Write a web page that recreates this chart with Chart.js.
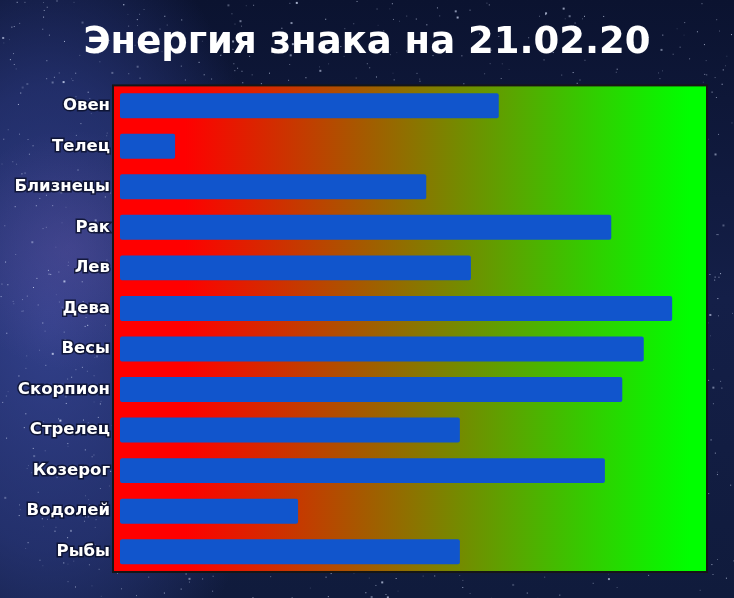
<!DOCTYPE html>
<html>
<head>
<meta charset="utf-8">
<script src="https://cdn.jsdelivr.net/npm/chart.js@4.4.1/dist/chart.umd.min.js"></script>
<style>
  html, body { margin: 0; padding: 0; background: #0e1733; }
  #wrap { width: 734px; height: 598px; }
</style>
</head>
<body>
<div id="wrap"><canvas id="chart" width="734" height="598"></canvas></div>
<script>
// Data
const signs = ["Овен", "Телец", "Близнецы", "Рак", "Лев", "Дева", "Весы", "Скорпион", "Стрелец", "Козерог", "Водолей", "Рыбы"];
const energy = [65.3, 9.5, 52.8, 84.7, 60.5, 95.2, 90.3, 86.6, 58.6, 83.6, 30.7, 58.6];
const titleText = "Энергия знака на 21.02.20";
const scaleTop = 100;

// starry background (decoration only)
const skyPlugin = {
    id: "sky",
    beforeDraw(chart) {
        const ctx = chart.ctx;
        const w = chart.width, h = chart.height;
        ctx.save();
        const g = ctx.createLinearGradient(0, 0, 0, h);
        g.addColorStop(0, "#0b1330");
        g.addColorStop(0.5, "#141f48");
        g.addColorStop(1, "#101b3c");
        ctx.fillStyle = g;
        ctx.fillRect(0, 0, w, h);

        // milky way haze down the left side
        ctx.save();
        ctx.translate(50, 320);
        ctx.scale(1, 1.8);
        const r = ctx.createRadialGradient(0, 0, 5, 0, 0, 230);
        r.addColorStop(0, "rgba(60,75,160,0.75)");
        r.addColorStop(0.55, "rgba(50,65,145,0.55)");
        r.addColorStop(1, "rgba(50,65,145,0)");
        ctx.fillStyle = r;
        ctx.fillRect(-300, -300, 600, 600);
        ctx.restore();

        const p = ctx.createRadialGradient(70, 250, 5, 70, 250, 120);
        p.addColorStop(0, "rgba(110,90,170,0.3)");
        p.addColorStop(1, "rgba(110,90,170,0)");
        ctx.fillStyle = p;
        ctx.fillRect(0, 0, w, h);

        // stars, fixed seed so the picture is stable
        let seed = 12345;
        const rnd = () => {
            seed = (seed * 1103515245 + 12345) % 2147483648;
            return seed / 2147483648;
        };
        for (let i = 0; i < 1400; i++) {
            const x = rnd() * w;
            const y = rnd() * h;
            const a = 0.15 + rnd() * 0.6;
            const s = rnd() < 0.92 ? 1 : 2;
            ctx.fillStyle = "rgba(220,230,255," + a.toFixed(2) + ")";
            ctx.fillRect(x, y, s, s);
        }
        ctx.restore();
    }
};

// red -> green panel behind the bars
const panelPlugin = {
    id: "panel",
    beforeDatasetsDraw(chart) {
        const { ctx, chartArea } = chart;
        const x = chart.scales.x;
        const left = chartArea.left - 7;
        const right = x.getPixelForValue(scaleTop) + 7;
        const top = chartArea.top;
        const bottom = chartArea.bottom;
        ctx.save();
        const g = ctx.createLinearGradient(185, 0, 690, 0);
        g.addColorStop(0, "#ff0000");
        g.addColorStop(1, "#00ff00");
        ctx.fillStyle = g;
        ctx.fillRect(left, top, right - left, bottom - top);
        ctx.strokeStyle = "#161616";
        ctx.lineWidth = 2;
        ctx.strokeRect(left, top, right - left, bottom - top);
        ctx.restore();
    }
};

const ctx = document.getElementById("chart").getContext("2d");
const chart = new Chart(ctx, {
    type: "bar",
    data: {
        labels: signs,
        datasets: [{
            data: energy,
            backgroundColor: "#1155cc",
            borderRadius: 2,
            borderSkipped: false,
            categoryPercentage: 0.8,
            barPercentage: 0.77
        }]
    },
    options: {
        indexAxis: "y",
        responsive: false,
        animation: false,
        layout: {
            padding: { top: 0, right: 0, bottom: 26, left: 0 }
        },
        scales: {
            x: {
                display: false,
                min: 0,
                max: 105.86
            },
            y: {
                grid: { display: false, drawTicks: false },
                border: { display: false },
                afterFit(scale) { scale.width = 120; },
                ticks: {
                    padding: 10,
                    color: "#ffffff",
                    textStrokeColor: "rgba(10,15,40,0.8)",
                    textStrokeWidth: 3,
                    font: { family: "'DejaVu Sans'", size: 16.5, weight: "bold" }
                }
            }
        },
        plugins: {
            legend: { display: false },
            tooltip: { enabled: false },
            title: {
                display: true,
                text: titleText,
                color: "#ffffff",
                font: { family: "'DejaVu Sans'", size: 37, weight: "bold", lineHeight: 1.2 },
                padding: { top: 21, bottom: 20 }
            }
        }
    },
    plugins: [skyPlugin, panelPlugin]
});
</script>
</body>
</html>
